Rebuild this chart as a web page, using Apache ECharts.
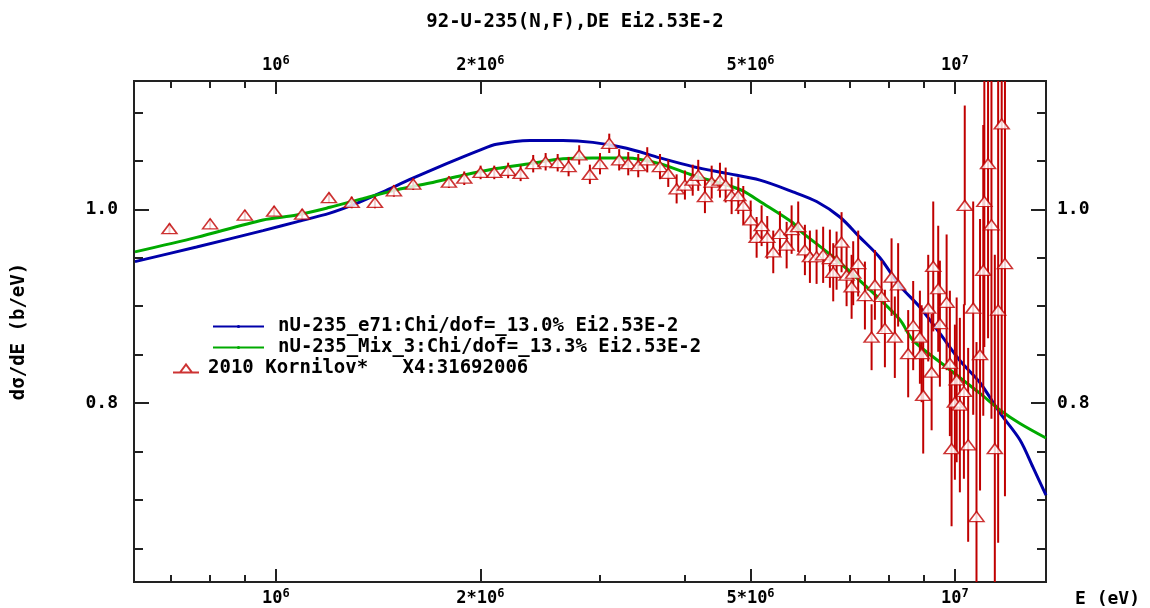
<!DOCTYPE html>
<html><head><meta charset="utf-8">
<script src="https://cdn.jsdelivr.net/npm/echarts@6/dist/echarts.min.js"></script>
<style>html,body{margin:0;padding:0;background:#fff}#c{width:1150px;height:608px}</style>
</head><body><div id="c"></div>
<script>
// ---------- DATA ----------
const titleText = '92-U-235(N,F),DE Ei2.53E-2';
const nameE71 = 'nU-235_e71:Chi/dof=_13.0% Ei2.53E-2';
const nameMix = 'nU-235_Mix_3:Chi/dof=_13.3% Ei2.53E-2';
const nameExp = '2010 Kornilov*   X4:31692006';

const e71E = [6.20e5,7.64e5,9.57e5,1.073e6,1.201e6,1.315e6,1.438e6,1.591e6,1.784e6,1.997e6,2.113e6,2.366e6,2.647e6,2.930e6,3.285e6,3.678e6,4.113e6,4.611e6,5.163e6,5.773e6,6.256e6,6.770e6,7.247e6,7.755e6,8.299e6,8.881e6,9.504e6,1.017e7,1.089e7,1.165e7,1.247e7,1.303e7,1.362e7];
const e71Y = [0.946,0.961,0.978,0.987,0.996,1.006,1.018,1.032,1.047,1.061,1.067,1.071,1.071,1.069,1.063,1.053,1.044,1.037,1.030,1.018,1.008,0.992,0.971,0.950,0.921,0.899,0.872,0.844,0.821,0.790,0.762,0.734,0.705];

const mixE = [6.20e5,7.64e5,9.57e5,1.073e6,1.201e6,1.343e6,1.506e6,1.686e6,1.886e6,2.113e6,2.366e6,2.647e6,2.930e6,3.285e6,3.678e6,4.113e6,4.611e6,4.874e6,5.163e6,5.773e6,5.912e6,6.612e6,7.413e6,8.299e6,8.671e6,9.723e6,1.089e7,1.165e7,1.247e7,1.362e7];
const mixY = [0.956,0.971,0.989,0.994,1.002,1.011,1.020,1.027,1.035,1.042,1.047,1.052,1.053,1.053,1.047,1.035,1.025,1.019,1.008,0.986,0.978,0.951,0.920,0.886,0.865,0.837,0.810,0.793,0.779,0.764];

const expE = [6.97e5,8.00e5,9.00e5,9.94e5,1.093e6,1.197e6,1.293e6,1.399e6,1.492e6,1.593e6,1.798e6,1.894e6,2.002e6,2.097e6,2.198e6,2.293e6,2.393e6,2.496e6,2.600e6,2.698e6,2.797e6,2.900e6,3.001e6,3.097e6,3.203e6,3.303e6,3.417e6,3.523e6,3.678e6,3.783e6,3.892e6,4.003e6,4.110e6,4.188e6,4.284e6,4.383e6,4.508e6,4.596e6,4.690e6,4.797e6,4.879e6,5.003e6,5.105e6,5.192e6,5.292e6,5.401e6,5.525e6,5.652e6,5.748e6,5.878e6,6.013e6,6.116e6,6.256e6,6.397e6,6.545e6,6.619e6,6.695e6,6.809e6,6.926e6,7.045e6,7.083e6,7.204e6,7.370e6,7.539e6,7.624e6,7.798e6,7.887e6,8.067e6,8.157e6,8.249e6,8.535e6,8.681e6,8.881e6,8.933e6,8.981e6,9.135e6,9.241e6,9.292e6,9.450e6,9.504e6,9.723e6,9.831e6,9.888e6,1.000e7,1.006e7,1.017e7,1.031e7,1.034e7,1.046e7,1.064e7,1.076e7,1.089e7,1.101e7,1.105e7,1.119e7,1.132e7,1.145e7,1.158e7,1.172e7,1.185e7];
const expY = [0.980,0.985,0.994,0.998,0.995,1.012,1.007,1.007,1.019,1.026,1.028,1.032,1.038,1.038,1.040,1.037,1.047,1.049,1.048,1.044,1.056,1.036,1.047,1.068,1.051,1.047,1.045,1.051,1.044,1.037,1.021,1.025,1.030,1.035,1.013,1.028,1.030,1.025,1.014,1.014,1.004,0.989,0.971,0.983,0.971,0.956,0.975,0.963,0.979,0.982,0.958,0.951,0.951,0.953,0.949,0.935,0.947,0.966,0.932,0.920,0.934,0.944,0.911,0.868,0.922,0.910,0.877,0.930,0.868,0.922,0.851,0.880,0.868,0.851,0.808,0.898,0.832,0.941,0.918,0.882,0.904,0.841,0.753,0.801,0.824,0.798,0.812,1.004,0.757,0.898,0.683,0.850,0.937,1.008,1.047,0.984,0.753,0.896,1.088,0.944];
const expErr = [0.005,0.005,0.005,0.005,0.005,0.005,0.006,0.006,0.006,0.006,0.006,0.007,0.007,0.007,0.008,0.008,0.009,0.009,0.009,0.010,0.010,0.010,0.011,0.010,0.011,0.012,0.012,0.013,0.013,0.014,0.015,0.015,0.016,0.016,0.017,0.017,0.018,0.018,0.019,0.019,0.020,0.020,0.021,0.021,0.022,0.022,0.023,0.024,0.025,0.026,0.026,0.027,0.028,0.029,0.030,0.030,0.030,0.031,0.032,0.033,0.033,0.034,0.035,0.034,0.036,0.037,0.040,0.040,0.042,0.043,0.045,0.046,0.048,0.050,0.060,0.055,0.060,0.067,0.065,0.065,0.070,0.075,0.080,0.080,0.085,0.090,0.090,0.103,0.100,0.110,0.180,0.140,0.150,0.150,0.180,0.200,0.200,0.240,0.300,0.240];

const xMajorTicks = [1e6, 2e6, 5e6, 1e7];
const xMajorBase = ['10', '2*10', '5*10', '10'];
const xMajorExp = ['6', '6', '6', '7'];
const xMinorTicks = [7e5, 8e5, 9e5, 3e6, 4e6, 6e6, 7e6, 8e6, 9e6];
const yMajorTicks = [0.8, 1.0];
const yMinorTicks = [0.65, 0.7, 0.75, 0.85, 0.9, 0.95, 1.05, 1.1];
const xName = 'E (eV)';
const yName = 'd\u03c3/dE (b/eV)';

// ---------- CHART ----------
const FONT = 'DejaVu Sans Mono';
const X_MIN = 6.18e5, X_MAX = 1.362e7, Y_MIN = 0.6155, Y_MAX = 1.1323;
const AX = '#222';
const RED = '#c00000', BLUE = '#0000aa', GREEN = '#00aa00';

function xLabelFmt(v) {
  for (let i = 0; i < xMajorTicks.length; i++) {
    if (Math.abs(v - xMajorTicks[i]) / xMajorTicks[i] < 1e-6) return '{a|' + xMajorBase[i] + '}{s|' + xMajorExp[i] + '}';
  }
  return '';
}
const richX = {
  a: { fontFamily: FONT, fontWeight: 'bold', fontSize: 17, color: '#000' },
  s: { fontFamily: FONT, fontWeight: 'bold', fontSize: 12, color: '#000', padding: [0, 0, 9, 0] }
};

function xAxisDef(pos, major) {
  return {
    type: 'log', position: pos, min: X_MIN, max: X_MAX, gridIndex: 0,
    axisLine: { show: false }, splitLine: { show: false },
    axisTick: { show: true, inside: true, length: major ? 13 : 7, lineStyle: { color: AX, width: 2 }, customValues: major ? xMajorTicks : xMinorTicks },
    axisLabel: major ? { show: true, margin: pos === 'bottom' ? 6 : 5, customValues: xMajorTicks, formatter: xLabelFmt, rich: richX } : { show: false },
    minorTick: { show: false },
    name: (major && pos === 'bottom') ? xName : '',
    nameLocation: 'end', nameGap: 29,
    nameTextStyle: { fontFamily: FONT, fontWeight: 'bold', fontSize: 18, color: '#000', verticalAlign: 'top', padding: [8, 0, 0, 0] }
  };
}
function yAxisDef(pos, major) {
  return {
    type: 'value', position: pos, min: Y_MIN, max: Y_MAX, gridIndex: 0,
    axisLine: { show: false }, splitLine: { show: false },
    axisTick: { show: true, inside: true, length: major ? 15 : 9, lineStyle: { color: AX, width: 2 }, customValues: major ? yMajorTicks : yMinorTicks },
    axisLabel: major ? { show: true, margin: pos === 'left' ? 16 : 11, customValues: yMajorTicks, formatter: v => v.toFixed(1), fontFamily: FONT, fontWeight: 'bold', fontSize: 18, color: '#000' } : { show: false },
    name: (major && pos === 'left') ? yName : '',
    nameLocation: 'middle', nameGap: 105,
    nameTextStyle: { fontFamily: FONT, fontWeight: 'bold', fontSize: 19, color: '#000' }
  };
}

const chart = echarts.init(document.getElementById('c'), null, { renderer: 'canvas' });
chart.setOption({
  animation: false,
  backgroundColor: '#fff',
  title: { text: titleText, left: 'center', top: 8, textStyle: { fontFamily: FONT, fontWeight: 'bold', fontSize: 19, color: '#000' } },
  grid: { left: 134, top: 81, right: 104, bottom: 26, show: true, borderColor: AX, borderWidth: 2, backgroundColor: 'transparent', containLabel: false },
  xAxis: [xAxisDef('bottom', true), xAxisDef('bottom', false), xAxisDef('top', true), xAxisDef('top', false)],
  yAxis: [yAxisDef('left', true), yAxisDef('left', false), yAxisDef('right', true), yAxisDef('right', false)],
  legend: [
    { data: [nameE71, nameMix], orient: 'vertical', left: 207, top: 312, itemWidth: 51, itemHeight: 4, itemGap: 2,
      selectedMode: false,
      textStyle: { fontFamily: FONT, fontWeight: 'bold', fontSize: 19, color: '#000', lineHeight: 19, padding: [0, 0, 0, 9] } },
    { data: [{ name: nameExp, icon: 'path://M0,8L26,8M7,8L13,0L19,8Z' }], orient: 'vertical', left: 167, top: 354, itemWidth: 26, itemHeight: 9,
      selectedMode: false,
      textStyle: { fontFamily: FONT, fontWeight: 'bold', fontSize: 19, color: '#000', lineHeight: 19, padding: [0, 0, 0, 4] } }
  ],
  series: [
    { name: nameE71, type: 'line', xAxisIndex: 0, yAxisIndex: 0, symbol: 'none', smooth: 0.3, z: 2,
      lineStyle: { color: BLUE, width: 3 }, itemStyle: { color: BLUE },
      data: e71E.map((e, i) => [e, e71Y[i]]) },
    { name: nameMix, type: 'line', xAxisIndex: 0, yAxisIndex: 0, symbol: 'none', smooth: 0.3, z: 3,
      lineStyle: { color: GREEN, width: 3 }, itemStyle: { color: GREEN },
      data: mixE.map((e, i) => [e, mixY[i]]) },
    { name: 'err', type: 'custom', xAxisIndex: 0, yAxisIndex: 0, z: 4,
      encode: { x: 0, y: 1 },
      renderItem: function (params, api) {
        const x = api.value(0), y = api.value(1), e = api.value(2);
        const p1 = api.coord([x, y + e]);
        const p2 = api.coord([x, y - e]);
        const cs = params.coordSys;
        const top = cs.y, bot = cs.y + cs.height;
        const y1 = Math.max(top, Math.min(bot, p1[1]));
        const y2 = Math.max(top, Math.min(bot, p2[1]));
        return { type: 'line', shape: { x1: p1[0], y1: y1, x2: p1[0], y2: y2 }, style: { stroke: RED, lineWidth: 2 } };
      },
      data: expE.map((e, i) => [e, expY[i], expErr[i]]) },
    { name: nameExp, type: 'scatter', xAxisIndex: 0, yAxisIndex: 0, z: 5,
      symbol: 'triangle', symbolSize: [15, 10],
      itemStyle: { color: '#fff', borderColor: RED, borderWidth: 1.5 },
      data: expE.map((e, i) => [e, expY[i]]) }
  ]
});
</script></body></html>
